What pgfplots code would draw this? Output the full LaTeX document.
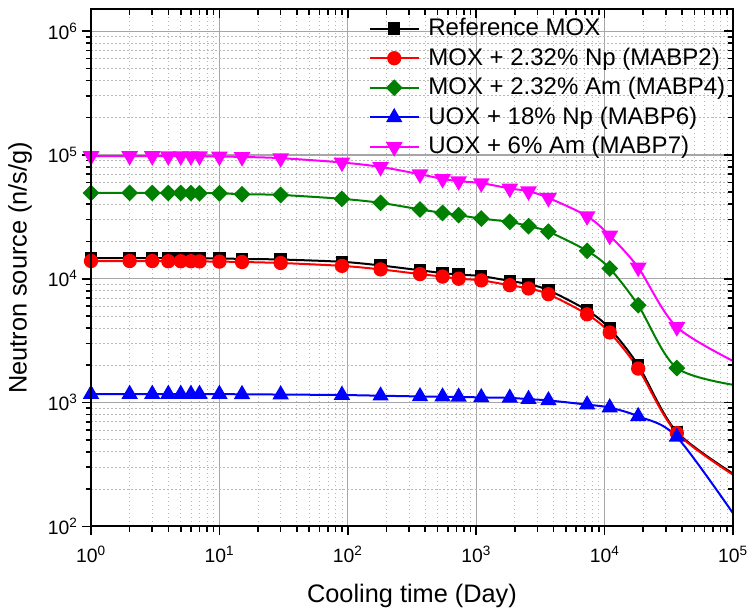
\documentclass[border=0pt]{standalone}
\usepackage{fontspec}
\setmainfont{Liberation Sans}
\usepackage{pgfplots}
\usepackage{pgfplotstable}
\pgfplotsset{compat=1.18}
\definecolor{ogreen}{RGB}{0,128,0}
\definecolor{omag}{RGB}{255,0,255}

\pgfplotstableread{
x        ref     np     am     unp    uam
1        14700   13900  49300  1170   98000
2        14700   13900  49300  1170   98000
3        14700   13900  49300  1170   98000
4        14700   13850  49300  1170   97800
5        14650   13850  49200  1170   97800
6        14650   13850  49200  1170   97700
7        14600   13800  49100  1170   97700
10       14600   13750  49000  1170   97200
15       14450   13650  48200  1165   96300
30       14300   13400  47500  1160   94200
90       13700   12700  44200  1150   86900
180      12800   11900  41000  1135   80000
365      11700   10900  36300  1120   69800
547      11100   10400  34000  1115   64000
730      10800   10000  32600  1110   61400
1095     10500   9700   30600  1100   59200
1826     9600    8860   28800  1090   53600
2555     9030    8340   26600  1065   50900
3652     8080    7500   24000  1040   45000
7305     5560    5160   16800  962    32000
10957    3960    3680   12100  910    22300
18262    2000    1880   6110   774    12300
36525    578     567    1900   527    4070
120000   236     231    1350   97     1970
}\data

\begin{document}
\begin{tikzpicture}
\useasboundingbox (-68.25pt,-65.25pt) rectangle (492.75pt,394.75pt);
\begin{axis}[
  at={(0pt,0pt)}, anchor=south west,
  scale only axis, width=481.5pt, height=387.75pt,
  xmode=log, ymode=log,
  xmin=1, xmax=1e5, ymin=1e2, ymax=1.5e6,
  axis line style={line width=1.5pt},
  xtick={1,10,100,1000,10000,100000},
  xticklabels={10\textsuperscript{0},10\textsuperscript{1},10\textsuperscript{2},10\textsuperscript{3},10\textsuperscript{4},10\textsuperscript{5}},
  ytick={100,1000,10000,100000,1000000},
  yticklabels={10\textsuperscript{2},10\textsuperscript{3},10\textsuperscript{4},10\textsuperscript{5},10\textsuperscript{6}},
  ticklabel style={font=\fontsize{14.5}{17}\selectfont},
  xticklabel shift=5pt,
  tick align=outside,
  xtick pos=left, ytick pos=left,
  major tick length=6.5pt, minor tick length=4pt,
  every tick/.style={black, line width=1.2pt},
  grid=both,
  major grid style={solid, line width=0.9pt, black!35},
  minor grid style={line width=0.6pt, black!28, dash pattern=on 1.2pt off 1.8pt},
  xlabel={Cooling time (Day)},
  ylabel={Neutron source (n/s/g)},
  label style={font=\fontsize{19}{22}\selectfont},
  xlabel style={at={(axis description cs:0.5,-0.147)}, anchor=base},
  ylabel style={at={(axis description cs:-0.1106,0.5)}, anchor=center},
  legend cell align=left,
  legend style={at={(0.428,0.997)}, anchor=north west, draw=none, fill=none,
    inner sep=2pt, row sep=0pt, font=\fontsize{18}{21.6}\selectfont,
    nodes={inner sep=2pt, text height=14.2pt, text depth=4pt},
    /tikz/every odd column/.append style={column sep=4.5pt}},
  legend image code/.code={\draw[mark repeat=2,mark phase=2,#1] plot coordinates {(0pt,0pt) (18.4pt,0pt) (36.75pt,0pt)};},
]
\addplot[black, line width=1.5pt, smooth, mark=square*, mark size=3.9pt, mark options={solid}] table[x=x,y=ref] {\data};
\addlegendentry{Reference MOX}
\addplot[red, line width=1.5pt, smooth, mark=*, mark size=4.6pt, mark options={solid}] table[x=x,y=np] {\data};
\addlegendentry{MOX + 2.32\% Np (MABP2)}
\addplot[ogreen, line width=1.5pt, smooth, mark=square*, mark size=3.7pt, mark options={solid, rotate=45}] table[x=x,y=am] {\data};
\addlegendentry{MOX + 2.32\% Am (MABP4)}
\addplot[blue, line width=1.5pt, smooth, mark=triangle*, mark size=5.6pt, mark options={solid}] table[x=x,y=unp] {\data};
\addlegendentry{UOX + 18\% Np (MABP6)}
\addplot[omag, line width=1.5pt, smooth, mark=triangle*, mark size=5.8pt, mark options={solid, rotate=180}] table[x=x,y=uam] {\data};
\addlegendentry{UOX + 6\% Am (MABP7)}
\end{axis}
\begin{axis}[
  at={(0pt,0pt)}, anchor=south west,
  scale only axis, width=481.5pt, height=387.75pt,
  xmode=log, ymode=log,
  xmin=1, xmax=1e5, ymin=1e2, ymax=1.5e6,
  axis line style={line width=1.5pt},
  xtick={1,10,100,1000,10000,100000},
  ytick={100,1000,10000,100000,1000000},
  xticklabels={}, yticklabels={},
  tick align=inside,
  xtick pos=right, ytick pos=right,
  major tick length=6.5pt, minor tick length=4pt,
  every tick/.style={black, line width=1.2pt},
]
\end{axis}
\end{tikzpicture}
\end{document}
